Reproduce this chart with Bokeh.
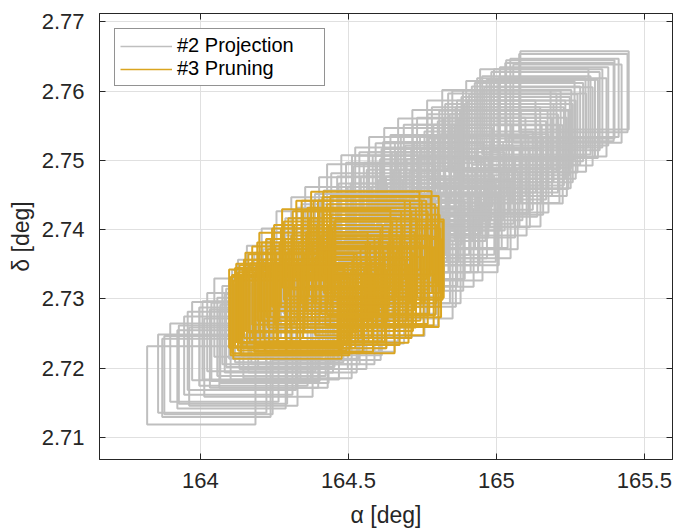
from bokeh.plotting import figure
from bokeh.models import Range1d, FixedTicker, LinearAxis, Legend, LegendItem, ColumnDataSource
from bokeh.embed import file_html
from bokeh.resources import INLINE

# ---------------- data ----------------
series_names = ["#2 Projection", "#3 Pruning"]

x_ticks = [164, 164.5, 165, 165.5]
x_tick_labels = ["164", "164.5", "165", "165.5"]
y_ticks = [2.71, 2.72, 2.73, 2.74, 2.75, 2.76, 2.77]
y_tick_labels = ["2.71", "2.72", "2.73", "2.74", "2.75", "2.76", "2.77"]
x_limits = [163.659, 165.595]
y_limits = [2.7068, 2.7712]

# half-extent of each uncertainty box [deg]
box_half_alpha = 0.183
box_half_delta = 0.00565

# #2 Projection box centres (alpha, delta) [deg]
proj_alpha = [
    164.003,
    164.054, 164.061, 164.040,
    164.081, 164.105, 164.110,
    164.128, 164.145, 164.155, 164.140,
    164.179, 164.196, 164.206, 164.190, 164.215,
    164.230, 164.247, 164.257, 164.240, 164.265,
    164.290, 164.310, 164.300, 164.328, 164.315, 164.285,
    164.340, 164.360, 164.350, 164.378, 164.365, 164.345,
    164.390, 164.410, 164.400, 164.420, 164.426, 164.395, 164.405,
    164.440, 164.460, 164.450, 164.473, 164.455, 164.465, 164.445,
    164.490, 164.510, 164.500, 164.520, 164.505, 164.495, 164.515,
    164.537, 164.555, 164.545, 164.560, 164.574, 164.550, 164.565,
    164.584, 164.611, 164.600, 164.595, 164.605, 164.620, 164.590,
    164.659, 164.645, 164.655, 164.640, 164.669, 164.660, 164.650,
    164.706, 164.696, 164.700, 164.690, 164.710, 164.705, 164.695,
    164.753, 164.740, 164.770, 164.750, 164.745, 164.760, 164.755,
    164.804, 164.821, 164.800, 164.790, 164.810, 164.795, 164.815,
    164.851, 164.860, 164.845, 164.855, 164.865, 164.840,
    164.899, 164.889, 164.919, 164.900, 164.905, 164.895,
    164.949, 164.966, 164.950, 164.940, 164.955,
    165.000, 164.993, 165.010, 165.005, 164.990,
    165.034, 165.041, 165.050, 165.060, 165.045,
    165.081, 165.068, 165.091, 165.100, 165.085,
    165.118, 165.128, 165.142, 165.166, 165.150,
    165.189, 165.213, 165.216,
    165.260, 165.264,
    164.220, 164.270, 164.280, 164.250,
    164.320, 164.330, 164.370, 164.380, 164.355, 164.385,
    164.415, 164.430, 164.435, 164.470, 164.480, 164.485, 164.430,
    164.525, 164.530, 164.535, 164.570, 164.575, 164.580, 164.530,
    164.625, 164.630, 164.635, 164.675, 164.680, 164.685, 164.615, 164.680,
    164.720, 164.725, 164.730, 164.775, 164.780, 164.785, 164.765, 164.735,
    164.825, 164.830, 164.835, 164.870, 164.875, 164.880, 164.825,
    164.915, 164.925, 164.930, 164.965, 164.970, 164.975, 164.985,
    165.020, 165.025, 165.030, 165.070, 165.075, 165.065, 165.055,
    165.110, 165.120, 165.135, 165.160, 165.175, 165.195,
    165.230, 165.240,
]
proj_delta = [
    2.7175,
    2.7186, 2.7190, 2.7192,
    2.7208, 2.7198, 2.7205,
    2.7218, 2.7202, 2.7239, 2.7225,
    2.7231, 2.7215, 2.7252, 2.7240, 2.7228,
    2.7273, 2.7228, 2.7262, 2.7245, 2.7250,
    2.7285, 2.7300, 2.7265, 2.7242, 2.7255, 2.7240,
    2.7320, 2.7290, 2.7270, 2.7255, 2.7310, 2.7250,
    2.7345, 2.7330, 2.7300, 2.7280, 2.7268, 2.7315, 2.7262,
    2.7370, 2.7350, 2.7320, 2.7280, 2.7300, 2.7335, 2.7285,
    2.7390, 2.7375, 2.7345, 2.7315, 2.7292, 2.7360, 2.7330,
    2.7405, 2.7385, 2.7355, 2.7330, 2.7303, 2.7370, 2.7345,
    2.7419, 2.7438, 2.7400, 2.7370, 2.7345, 2.7318, 2.7385,
    2.7451, 2.7420, 2.7395, 2.7370, 2.7328, 2.7350, 2.7410,
    2.7462, 2.7350, 2.7435, 2.7410, 2.7385, 2.7368, 2.7450,
    2.7477, 2.7374, 2.7383, 2.7455, 2.7430, 2.7405, 2.7395,
    2.7490, 2.7395, 2.7470, 2.7445, 2.7420, 2.7460, 2.7410,
    2.7504, 2.7480, 2.7455, 2.7430, 2.7415, 2.7470,
    2.7516, 2.7428, 2.7448, 2.7495, 2.7470, 2.7460,
    2.7530, 2.7461, 2.7510, 2.7485, 2.7475,
    2.7545, 2.7481, 2.7525, 2.7505, 2.7515,
    2.7544, 2.7494, 2.7530, 2.7515, 2.7520,
    2.7558, 2.7516, 2.7539, 2.7550, 2.7530,
    2.7562, 2.7575, 2.7549, 2.7571, 2.7560,
    2.7562, 2.7584, 2.7588,
    2.7597, 2.7601,
    2.7238, 2.7258, 2.7270, 2.7235,
    2.7275, 2.7290, 2.7280, 2.7300, 2.7262, 2.7320,
    2.7290, 2.7340, 2.7310, 2.7360, 2.7325, 2.7295, 2.7275,
    2.7380, 2.7350, 2.7320, 2.7395, 2.7360, 2.7330, 2.7300,
    2.7425, 2.7390, 2.7360, 2.7440, 2.7405, 2.7375, 2.7335, 2.7345,
    2.7455, 2.7420, 2.7395, 2.7468, 2.7440, 2.7415, 2.7450, 2.7440,
    2.7480, 2.7455, 2.7430, 2.7495, 2.7465, 2.7445, 2.7405,
    2.7505, 2.7480, 2.7460, 2.7520, 2.7495, 2.7478, 2.7500,
    2.7540, 2.7510, 2.7495, 2.7545, 2.7525, 2.7535, 2.7505,
    2.7555, 2.7540, 2.7565, 2.7560, 2.7575, 2.7578,
    2.7590, 2.7582,
]

# #3 Pruning box centres (alpha, delta) [deg]
prun_alpha = [
    164.280, 164.304, 164.294, 164.290, 164.310,
    164.330, 164.340, 164.320, 164.358, 164.350, 164.345,
    164.382, 164.370, 164.380, 164.390, 164.400, 164.395, 164.410,
    164.432, 164.420, 164.430, 164.440, 164.450, 164.459, 164.445, 164.455,
    164.473, 164.480, 164.470, 164.490, 164.485, 164.507, 164.500, 164.510, 164.520, 164.515,
    164.530, 164.540, 164.535, 164.557, 164.550, 164.560, 164.571,
    164.580, 164.575, 164.590, 164.598, 164.600, 164.611, 164.605, 164.622,
    164.622, 164.628, 164.635, 164.639, 164.620,
    164.285, 164.300, 164.315, 164.325, 164.335, 164.360, 164.365, 164.375,
    164.385, 164.405, 164.415, 164.425, 164.435, 164.440, 164.465, 164.470,
    164.475, 164.495, 164.500, 164.525, 164.525, 164.530, 164.545, 164.545,
    164.565, 164.565, 164.585, 164.585, 164.595, 164.610, 164.615, 164.625,
    164.630, 164.545, 164.490,
]
prun_delta = [
    2.7286, 2.7294, 2.7270, 2.7278, 2.7282,
    2.7300, 2.7285, 2.7275, 2.7319, 2.7295, 2.7308,
    2.7339, 2.7290, 2.7310, 2.7325, 2.7280, 2.7300, 2.7315,
    2.7350, 2.7330, 2.7295, 2.7310, 2.7325, 2.7373, 2.7285, 2.7345,
    2.7278, 2.7360, 2.7300, 2.7335, 2.7315, 2.7385, 2.7350, 2.7300, 2.7293, 2.7325,
    2.7370, 2.7340, 2.7310, 2.7398, 2.7360, 2.7325, 2.7304,
    2.7385, 2.7350, 2.7335, 2.7399, 2.7365, 2.7333, 2.7318, 2.7316,
    2.7392, 2.7345, 2.7355, 2.7358, 2.7375,
    2.7275, 2.7288, 2.7292, 2.7285, 2.7310, 2.7300, 2.7280, 2.7325,
    2.7295, 2.7330, 2.7290, 2.7345, 2.7320, 2.7295, 2.7355, 2.7330,
    2.7310, 2.7370, 2.7320, 2.7385, 2.7350, 2.7300, 2.7375, 2.7335,
    2.7385, 2.7350, 2.7370, 2.7320, 2.7390, 2.7380, 2.7350, 2.7365,
    2.7330, 2.7315, 2.7290,
]

# ---------------- styling ----------------
FONT = "Liberation Sans"
AX = "#262626"
GRAY = "#bfbfbf"
GOLD = "#daa520"
GRID = "#e0e0e0"
LW = 2


def boxes(a, d):
    return ColumnDataSource(dict(
        left=[v - box_half_alpha for v in a],
        right=[v + box_half_alpha for v in a],
        bottom=[v - box_half_delta for v in d],
        top=[v + box_half_delta for v in d],
    ))


p = figure(width=673, height=530,
           x_range=Range1d(*x_limits), y_range=Range1d(*y_limits),
           output_backend="svg", toolbar_location=None,
           min_border_left=99, min_border_right=1,
           min_border_top=13, min_border_bottom=70)
p.background_fill_color = "white"
p.border_fill_color = "white"
p.outline_line_color = AX
p.outline_line_width = 1

p.quad(left="left", right="right", bottom="bottom", top="top",
       source=boxes(proj_alpha, proj_delta),
       fill_color=None, line_color=GRAY, line_width=LW)
p.quad(left="left", right="right", bottom="bottom", top="top",
       source=boxes(prun_alpha, prun_delta),
       fill_color=None, line_color=GOLD, line_width=LW)

# legend proxies (line glyphs, as in the original legend)
nan = float("nan")
r_proj = p.line(x=[nan], y=[nan], line_color=GRAY, line_width=1.5)
r_prun = p.line(x=[nan], y=[nan], line_color=GOLD, line_width=1.5)

# axes
p.xaxis.ticker = FixedTicker(ticks=x_ticks)
p.xaxis.major_label_overrides = dict(zip(x_ticks, x_tick_labels))
p.yaxis.ticker = FixedTicker(ticks=y_ticks)
p.yaxis.major_label_overrides = dict(zip(y_ticks, y_tick_labels))
p.xaxis.axis_label = "α [deg]"
p.yaxis.axis_label = "δ [deg]"

for ax in (p.xaxis[0], p.yaxis[0]):
    ax.axis_line_color = AX
    ax.major_tick_line_color = AX
    ax.major_tick_in = 6
    ax.major_tick_out = 0
    ax.minor_tick_line_color = None
    ax.major_label_text_font = FONT
    ax.major_label_text_font_size = "22px"
    ax.major_label_text_color = AX
    ax.axis_label_text_font = FONT
    ax.axis_label_text_font_size = "23px"
    ax.axis_label_text_font_style = "normal"
    ax.axis_label_text_color = AX
p.xaxis.major_label_standoff = 13
p.xaxis.axis_label_standoff = 11
p.yaxis.major_label_standoff = 15
p.yaxis.axis_label_standoff = 5

# mirrored inward ticks on top and right
top_ax = LinearAxis(ticker=FixedTicker(ticks=x_ticks))
right_ax = LinearAxis(ticker=FixedTicker(ticks=y_ticks))
for ax in (top_ax, right_ax):
    ax.axis_line_color = AX
    ax.major_tick_line_color = AX
    ax.major_tick_in = 6
    ax.major_tick_out = 0
    ax.minor_tick_line_color = None
    ax.major_label_text_font_size = "0px"
    ax.major_label_standoff = 0
    ax.major_label_overrides = {t: "" for t in ax.ticker.ticks}
p.add_layout(top_ax, "above")
p.add_layout(right_ax, "right")

p.xgrid.ticker = FixedTicker(ticks=x_ticks)
p.ygrid.ticker = FixedTicker(ticks=y_ticks)
p.grid.grid_line_color = GRID
p.grid.grid_line_width = 1

legend = Legend(items=[LegendItem(label=series_names[0], renderers=[r_proj]),
                       LegendItem(label=series_names[1], renderers=[r_prun])],
                location="top_left", margin=15, padding=5, spacing=0,
                label_height=20, glyph_height=20, glyph_width=52,
                label_standoff=5, label_width=142,
                label_text_font=FONT, label_text_font_size="20px",
                label_text_color="black",
                border_line_color=AX, border_line_width=1,
                background_fill_color="white", background_fill_alpha=1)
p.add_layout(legend)

open("out.html", "w").write(file_html(p, INLINE))
